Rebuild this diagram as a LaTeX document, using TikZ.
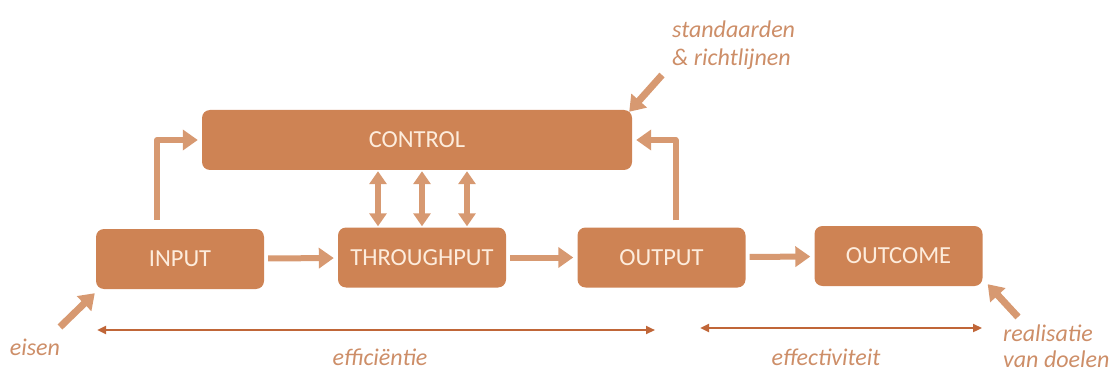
\documentclass[tikz,border=0pt]{standalone}
\usepackage{fontspec}
\setmainfont{Carlito}
\usetikzlibrary{arrows.meta}
\definecolor{blok}{RGB}{206,131,84}
\definecolor{pijl}{RGB}{215,153,113}
\definecolor{bloktekst}{RGB}{253,236,220}
\definecolor{label}{RGB}{205,142,104}
\definecolor{maat}{RGB}{192,102,56}
\begin{document}
\begin{tikzpicture}[x=1pt, y=-1pt, line join=round,
  blok/.style={fill=blok, rounded corners=8pt, inner sep=0pt, text=bloktekst,
    font=\fontsize{24.5}{28}\selectfont, minimum height=60pt},
  conn/.style={draw=pijl, line width=6pt, -{Triangle[width=20pt,length=15pt]},
    shorten <=4pt, shorten >=4pt},
  dubbel/.style={draw=pijl, line width=6pt,
    {Triangle[width=17pt,length=13pt]}-{Triangle[width=17pt,length=13pt]},
    shorten <=1pt, shorten >=1pt},
  aanw/.style={draw=pijl, line width=7pt, -{Triangle[width=20pt,length=15pt]}},
  maat/.style={draw=maat, line width=2.5pt,
    {Triangle[width=8pt,length=9pt]}-{Triangle[width=8pt,length=9pt]}},
  lbl/.style={text=label, inner sep=0pt, align=left,
    font=\fontsize{24}{28}\selectfont\itshape}]
\useasboundingbox (0,0) rectangle (1120,377);
% De blokken
\node[blok, minimum width=430pt] (control) at (417,140) {CONTROL};
\node[blok, minimum width=168pt] (input) at (180,259) {INPUT};
\node[blok, minimum width=168pt] (throughput) at (422,257.5) {THROUGHPUT};
\node[blok, minimum width=168pt] (output) at (661.5,257.5) {OUTPUT};
\node[blok, minimum width=168pt] (outcome) at (898.5,256) {OUTCOME};
% Pijlen tussen de blokken
\draw[conn] (input) -- (throughput);
\draw[conn] (throughput) -- (output);
\draw[conn] (output) -- (outcome);
\draw[conn, shorten <=9pt] ([xshift=-23pt]input.north) |- (control.west);
\draw[conn, shorten <=7pt] ([xshift=14pt]output.north) |- (control.east);
% Wisselwerking control en throughput
\foreach \dx in {-44,0,45}
  \draw[dubbel] ([xshift=\dx pt]control.south -| throughput.north) -- ([xshift=\dx pt]throughput.north);
% Teksten rondom
\node[lbl, anchor=west] (norm) at (672,45) {standaarden\\\& richtlijnen};
\node[lbl] (eisen) at (35,347) {eisen};
\node[lbl, anchor=west, font=\fontsize{24}{26}\selectfont\itshape] (doel) at (1003,346) {realisatie\\van doelen};
\node[lbl] (effi) at (380,357) {efficiëntie};
\node[lbl] (effe) at (826,357) {effectiviteit};
% Aanwijspijlen
\coordinate (normpunt) at (662,75);
\coordinate (eisenpunt) at (60,327);
\coordinate (doelpunt) at (1018,317);
\draw[aanw] (normpunt) -- ([shift={(-3pt,-2pt)}]control.north east);
\draw[aanw] (eisenpunt) -- ([shift={(-1pt,-4pt)}]input.south west);
\draw[aanw] (doelpunt) -- ([shift={(5pt,2pt)}]outcome.south east);
% Maatlijnen
\coordinate (effiA) at (97,330);
\coordinate (effiB) at (655,330);
\coordinate (effeA) at (700,328);
\coordinate (effeB) at (982,328);
\draw[maat] (effiA) -- (effiB);
\draw[maat] (effeA) -- (effeB);
\end{tikzpicture}
\end{document}
